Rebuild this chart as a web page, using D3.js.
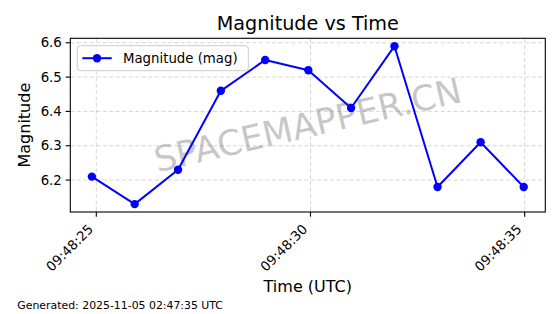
<!DOCTYPE html>
<html>
<head>
<meta charset="utf-8">
<script src="https://cdn.jsdelivr.net/npm/d3@7"></script>
<style>
  body { margin: 0; background: #fff; }
  svg { display: block; font-family: "DejaVu Sans", sans-serif; }
</style>
</head>
<body>
<svg id="container" width="560" height="314"></svg>
<script>
// readings taken off the plot (seconds after 09:48:00 UTC)
const seconds = [24.897, 25.896, 26.908, 27.907, 28.943, 29.949, 30.947, 31.960, 32.965, 33.971, 34.977];
const magnitudes = [6.21, 6.13, 6.23, 6.46, 6.55, 6.52, 6.41, 6.59, 6.18, 6.31, 6.18];
const yTicks = [6.2, 6.3, 6.4, 6.5, 6.6];
const seriesName = "Magnitude (mag)";
const generatedAt = "Generated: 2025-11-05 02:47:35 UTC";

const base = Date.UTC(2025, 10, 5, 9, 48, 0);
const data = seconds.map((s, i) => ({ t: new Date(base + s * 1000), v: magnitudes[i] }));

// plot area
const pLeft = 70.3, pRight = 545.3, pTop = 38.3, pBottom = 212;

const svg = d3.select("#container");

// matplotlib-like 5% padding around the data
function padded(ext) {
    const p = (ext[1] - ext[0]) * 0.05;
    return [ext[0] - p, ext[1] + p];
}
const tExt = d3.extent(data, d => +d.t);
const x = d3.scaleUtc()
    .domain(padded(tExt).map(v => new Date(v)))
    .range([pLeft, pRight]);
const y = d3.scaleLinear()
    .domain(padded(d3.extent(data, d => d.v)))
    .range([pBottom, pTop]);

const xTicks = x.ticks(d3.utcSecond.every(5));
const fmt = d3.utcFormat("%H:%M:%S");

// grid
const grid = svg.append("g")
    .attr("stroke", "#b0b0b0")
    .attr("stroke-opacity", 0.6)
    .attr("stroke-width", 0.9)
    .attr("stroke-dasharray", "4,2.5");
grid.selectAll(".gx").data(xTicks).join("line")
    .attr("x1", d => x(d)).attr("x2", d => x(d))
    .attr("y1", pTop).attr("y2", pBottom);
grid.selectAll(".gy").data(yTicks).join("line")
    .attr("x1", pLeft).attr("x2", pRight)
    .attr("y1", d => y(d)).attr("y2", d => y(d));

// watermark
svg.append("text")
    .attr("transform", `translate(${(pLeft + pRight) / 2},${(pTop + pBottom) / 2}) rotate(-13)`)
    .attr("text-anchor", "middle")
    .attr("dominant-baseline", "central")
    .attr("font-size", 35)
    .attr("fill", "#808080")
    .attr("fill-opacity", 0.45)
    .text("SPACEMAPPER.CN");

// series
const line = d3.line().x(d => x(d.t)).y(d => y(d.v));
svg.append("path")
    .datum(data)
    .attr("d", line)
    .attr("fill", "none")
    .attr("stroke", "#0000ff")
    .attr("stroke-width", 2)
    .attr("stroke-linejoin", "round");
svg.append("g").selectAll("circle").data(data).join("circle")
    .attr("cx", d => x(d.t))
    .attr("cy", d => y(d.v))
    .attr("r", 4.2)
    .attr("fill", "#0000ff");

// frame
svg.append("rect")
    .attr("x", pLeft).attr("y", pTop)
    .attr("width", pRight - pLeft).attr("height", pBottom - pTop)
    .attr("fill", "none").attr("stroke", "#000").attr("stroke-width", 1.1);

// x axis (labels rotated 45deg, right edge at the tick)
const xAxis = svg.append("g");
xAxis.selectAll("line").data(xTicks).join("line")
    .attr("x1", d => x(d)).attr("x2", d => x(d))
    .attr("y1", pBottom).attr("y2", pBottom + 4.7)
    .attr("stroke", "#000").attr("stroke-width", 1.1);
xAxis.selectAll("text").data(xTicks).join("text")
    .attr("transform", d => `translate(${x(d) - 2.2},${pBottom + 18.1}) rotate(-45)`)
    .attr("text-anchor", "end")
    .attr("font-size", 13.3)
    .attr("fill", "#000")
    .text(d => fmt(d));

// y axis
const yAxis = svg.append("g");
yAxis.selectAll("line").data(yTicks).join("line")
    .attr("x1", pLeft - 4.7).attr("x2", pLeft)
    .attr("y1", d => y(d)).attr("y2", d => y(d))
    .attr("stroke", "#000").attr("stroke-width", 1.1);
yAxis.selectAll("text").data(yTicks).join("text")
    .attr("x", pLeft - 8.5)
    .attr("y", d => y(d))
    .attr("text-anchor", "end")
    .attr("dominant-baseline", "central")
    .attr("font-size", 13.3)
    .attr("fill", "#000")
    .text(d => d3.format(".1f")(d));

// labels
svg.append("text")
    .attr("x", (pLeft + pRight) / 2).attr("y", 29.5)
    .attr("text-anchor", "middle")
    .attr("font-size", 19.2)
    .text("Magnitude vs Time");
svg.append("text")
    .attr("x", (pLeft + pRight) / 2).attr("y", 291.7)
    .attr("text-anchor", "middle")
    .attr("font-size", 16)
    .text("Time (UTC)");
svg.append("text")
    .attr("transform", `translate(29.5,${(pTop + pBottom) / 2}) rotate(-90)`)
    .attr("text-anchor", "middle")
    .attr("font-size", 16)
    .text("Magnitude");
svg.append("text")
    .attr("x", 17.3).attr("y", 309.3)
    .attr("font-size", 10.9)
    .text(generatedAt);

// legend
const legend = svg.append("g");
legend.append("rect")
    .attr("x", 77.3).attr("y", 45.7)
    .attr("width", 171).attr("height", 25)
    .attr("rx", 3)
    .attr("fill", "#fff").attr("fill-opacity", 0.8)
    .attr("stroke", "#cccccc").attr("stroke-width", 1);
legend.append("line")
    .attr("x1", 82.3).attr("x2", 111.7)
    .attr("y1", 58.2).attr("y2", 58.2)
    .attr("stroke", "#0000ff").attr("stroke-width", 2);
legend.append("circle")
    .attr("cx", 97).attr("cy", 58.2).attr("r", 4.2)
    .attr("fill", "#0000ff");
legend.append("text")
    .attr("x", 123).attr("y", 62.8)
    .attr("font-size", 13.3)
    .text(seriesName);
</script>
</body>
</html>
